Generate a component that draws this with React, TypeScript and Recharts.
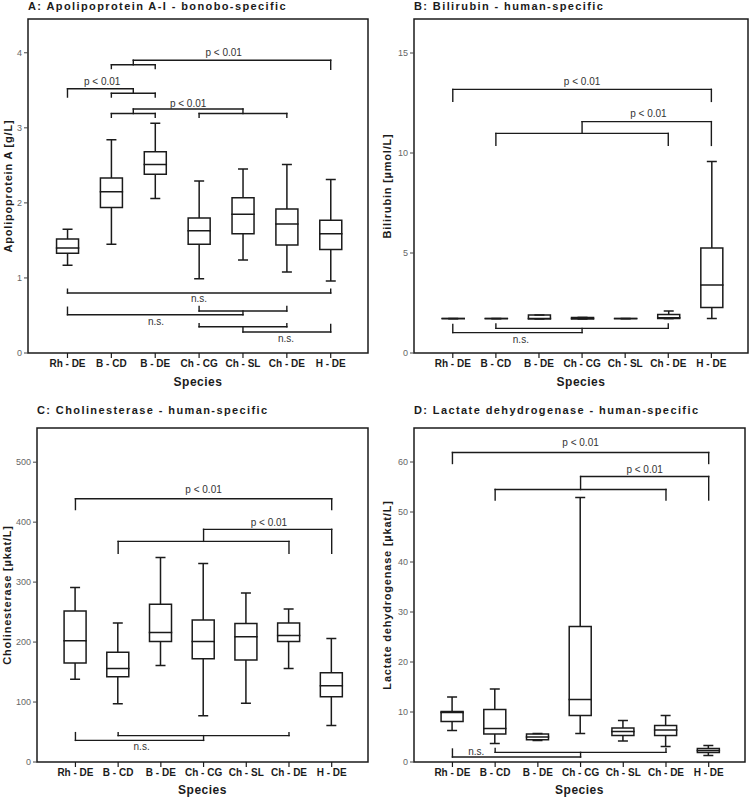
import React from "react";
import {
  ComposedChart,
  Bar,
  XAxis,
  YAxis,
  ReferenceLine,
  ReferenceArea,
  Scatter,
} from "recharts";

// species groups, placed at 1..7 on a numeric x axis
const species = ["Rh - DE", "B - CD", "B - DE", "Ch - CG", "Ch - SL", "Ch - DE", "H - DE"];
const positions = [1, 2, 3, 4, 5, 6, 7];

// A: apolipoprotein A-I [g/L]
const apoMin = [1.17, 1.45, 2.06, 0.99, 1.24, 1.08, 0.96];
const apoQ1 = [1.33, 1.94, 2.38, 1.45, 1.59, 1.44, 1.38];
const apoMed = [1.4, 2.15, 2.51, 1.63, 1.85, 1.72, 1.59];
const apoQ3 = [1.52, 2.33, 2.68, 1.8, 2.07, 1.92, 1.77];
const apoMax = [1.65, 2.84, 3.06, 2.29, 2.45, 2.51, 2.31];
const apoTicks = [0, 1, 2, 3, 4];

// B: bilirubin [umol/L]
const biliMin = [1.72, 1.72, 1.7, 1.7, 1.72, 1.72, 1.72];
const biliQ1 = [1.72, 1.72, 1.7, 1.7, 1.72, 1.72, 2.28];
const biliMed = [1.72, 1.72, 1.72, 1.73, 1.72, 1.76, 3.4];
const biliQ3 = [1.72, 1.72, 1.9, 1.78, 1.72, 1.93, 5.25];
const biliMax = [1.72, 1.72, 1.9, 1.78, 1.72, 2.1, 9.58];
const biliTicks = [0, 5, 10, 15];

// C: cholinesterase [ukat/L]
const choMin = [138, 97, 161, 77, 98, 156, 61];
const choQ1 = [165, 142, 201, 172, 170, 201, 109];
const choMed = [202, 156, 216, 201, 209, 211, 127];
const choQ3 = [252, 183, 263, 237, 231, 232, 149];
const choMax = [291, 232, 341, 331, 282, 255, 206];
const choTicks = [0, 100, 200, 300, 400, 500];

// D: lactate dehydrogenase [ukat/L]
const ldhMin = [6.3, 3.7, 4.3, 5.7, 4.2, 3.1, 1.3];
const ldhQ1 = [8.1, 5.6, 4.45, 9.3, 5.3, 5.3, 1.9];
const ldhMed = [9.9, 6.7, 5.0, 12.5, 6.1, 6.4, 2.3];
const ldhQ3 = [10.1, 10.5, 5.6, 27.1, 6.8, 7.3, 2.7];
const ldhMax = [13.0, 14.6, 5.7, 52.9, 8.3, 9.3, 3.3];
const ldhTicks = [0, 10, 20, 30, 40, 50, 60];

type Bracket = { a: number; b: number; y: number; ya?: number; yb?: number };
type Note = { x: number; y: number; text: string };

// significance brackets: horizontal from a to b at y, with ends dropping to ya / yb
const apoBrackets: Bracket[] = [
  { a: 2, b: 3, y: 3.84, ya: 3.79, yb: 3.79 },
  { a: 2.5, b: 7, y: 3.9, ya: 3.84, yb: 3.78 },
  { a: 1, b: 2.5, y: 3.52, ya: 3.41, yb: 3.46 },
  { a: 2, b: 3, y: 3.46, ya: 3.41, yb: 3.41 },
  { a: 2.5, b: 5, y: 3.25, ya: 3.19, yb: 3.19 },
  { a: 2, b: 3, y: 3.19, ya: 3.14, yb: 3.14 },
  { a: 4, b: 6, y: 3.19, ya: 3.14, yb: 3.14 },
  { a: 1, b: 7, y: 0.8, ya: 0.85, yb: 0.85 },
  { a: 1, b: 5, y: 0.51, ya: 0.61, yb: 0.56 },
  { a: 4, b: 6, y: 0.56, ya: 0.62, yb: 0.62 },
  { a: 4, b: 6, y: 0.35, ya: 0.39, yb: 0.39 },
  { a: 5, b: 7, y: 0.28, ya: 0.35, yb: 0.38 },
];
const apoNotes: Note[] = [
  { x: 4.56, y: 4.0, text: "p < 0.01" },
  { x: 1.79, y: 3.62, text: "p < 0.01" },
  { x: 3.75, y: 3.33, text: "p < 0.01" },
  { x: 4, y: 0.72, text: "n.s." },
  { x: 3.02, y: 0.42, text: "n.s." },
  { x: 5.98, y: 0.19, text: "n.s." },
];

const biliBrackets: Bracket[] = [
  { a: 1, b: 7, y: 13.18, ya: 12.58, yb: 12.58 },
  { a: 4, b: 7, y: 11.57, ya: 10.98, yb: 10.38 },
  { a: 2, b: 6, y: 10.98, ya: 10.38, yb: 10.38 },
  { a: 2, b: 6, y: 1.23, ya: 1.45, yb: 1.45 },
  { a: 1, b: 4, y: 1.02, ya: 1.43, yb: 1.23 },
];
const biliNotes: Note[] = [
  { x: 4, y: 13.6, text: "p < 0.01" },
  { x: 5.54, y: 11.98, text: "p < 0.01" },
  { x: 2.58, y: 0.7, text: "n.s." },
];

const choBrackets: Bracket[] = [
  { a: 1, b: 7, y: 439, ya: 421, yb: 421 },
  { a: 4, b: 7, y: 388, ya: 368, yb: 348 },
  { a: 2, b: 6, y: 368, ya: 348, yb: 348 },
  { a: 2, b: 6, y: 44, ya: 49, yb: 49 },
  { a: 1, b: 4, y: 36, ya: 49, yb: 44 },
];
const choNotes: Note[] = [
  { x: 4, y: 455, text: "p < 0.01" },
  { x: 5.53, y: 399, text: "p < 0.01" },
  { x: 2.55, y: 25.5, text: "n.s." },
];

const ldhBrackets: Bracket[] = [
  { a: 1, b: 7, y: 61.9, ya: 59.7, yb: 59.7 },
  { a: 4, b: 7, y: 57.1, ya: 54.5, yb: 52.4 },
  { a: 2, b: 6, y: 54.5, ya: 52.4, yb: 52.4 },
  { a: 2, b: 6, y: 1.93, ya: 2.73, yb: 2.73 },
  { a: 1, b: 4, y: 1.0, ya: 2.6, yb: 1.93 },
];
const ldhNotes: Note[] = [
  { x: 4, y: 63.9, text: "p < 0.01" },
  { x: 5.5, y: 58.6, text: "p < 0.01" },
  { x: 1.56, y: 2.2, text: "n.s." },
];

const FONT = '"Liberation Sans", Arial, Helvetica, sans-serif';
const INK = "#1b1b1b";
const X_DOMAIN: [number, number] = [0.1, 7.85];
const BOX_W = 22;
const CAP = 10;
const SW = 1.5;

const Empty = () => <g />;

const LowerWhisker = (p: any) => {
  const cx = p.x + p.width / 2;
  const y1 = p.y + p.height;
  return (
    <path
      d={`M${cx},${p.y}V${y1}M${cx - CAP / 2},${y1}H${cx + CAP / 2}`}
      stroke={INK}
      strokeWidth={SW}
      fill="none"
    />
  );
};

const LowerBox = (p: any) => {
  const { x, y, width: w, height: h } = p;
  return (
    <path
      d={`M${x},${y}V${y + h}H${x + w}V${y}M${x},${y}H${x + w}`}
      stroke={INK}
      strokeWidth={SW}
      fill="none"
      strokeLinecap="square"
    />
  );
};

const UpperBox = (p: any) => {
  const { x, y, width: w, height: h } = p;
  return (
    <path
      d={`M${x},${y + h}V${y}H${x + w}V${y + h}`}
      stroke={INK}
      strokeWidth={SW}
      fill="none"
      strokeLinecap="square"
    />
  );
};

const UpperWhisker = (p: any) => {
  const cx = p.x + p.width / 2;
  return (
    <path
      d={`M${cx},${p.y + p.height}V${p.y}M${cx - CAP / 2},${p.y}H${cx + CAP / 2}`}
      stroke={INK}
      strokeWidth={SW}
      fill="none"
    />
  );
};

const NoteText = (p: any) => (
  <text
    x={p.cx}
    y={p.cy}
    textAnchor="middle"
    dominantBaseline="central"
    fontSize={10}
    fill="#333"
  >
    {p.payload.text}
  </text>
);

const segmentsOf = (b: Bracket) => {
  const segs = [[{ x: b.a, y: b.y }, { x: b.b, y: b.y }]];
  if (b.ya !== undefined) segs.push([{ x: b.a, y: b.y }, { x: b.a, y: b.ya }]);
  if (b.yb !== undefined) segs.push([{ x: b.b, y: b.y }, { x: b.b, y: b.yb }]);
  return segs;
};

type PanelProps = {
  left: number;
  top: number;
  height: number;
  plotLeft: number;
  plotTop: number;
  plotRight: number;
  plotBottom: number;
  titleTop: number;
  xTitleY: number;
  yLabelX: number;
  title: string;
  yLabel: string;
  mins: number[];
  q1s: number[];
  meds: number[];
  q3s: number[];
  maxs: number[];
  yTop: number;
  yTicks: number[];
  brackets: Bracket[];
  notes: Note[];
};

function Panel(p: PanelProps) {
  const w = 375;
  const rows = positions.map((x, i) => ({
    x,
    base: p.mins[i],
    lw: p.q1s[i] - p.mins[i],
    lb: p.meds[i] - p.q1s[i],
    ub: p.q3s[i] - p.meds[i],
    uw: p.maxs[i] - p.q3s[i],
  }));
  const segs = p.brackets.flatMap(segmentsOf);
  return (
    <div style={{ position: "absolute", left: p.left, top: p.top, width: w, height: p.height }}>
      <div
        style={{
          position: "absolute",
          left: p.plotLeft,
          top: p.titleTop,
          fontSize: 11,
          fontWeight: 700,
          letterSpacing: 1.4,
          lineHeight: "13px",
          whiteSpace: "nowrap",
          color: INK,
        }}
      >
        {p.title}
      </div>
      <ComposedChart
        width={w}
        height={p.height}
        data={rows}
        margin={{ top: p.plotTop, right: w - p.plotRight, bottom: 0, left: 0 }}
      >
        <XAxis
          dataKey="x"
          type="number"
          domain={X_DOMAIN}
          ticks={positions}
          interval={0}
          allowDataOverflow
          height={p.height - p.plotBottom}
          axisLine={false}
          tickLine={{ stroke: INK, strokeWidth: 1.2 }}
          tickSize={5}
          tick={{ fontSize: 10, fontWeight: 700, fill: INK }}
          tickFormatter={(v: number) => species[v - 1]}
        />
        <XAxis
          xAxisId="notes"
          dataKey="x"
          type="number"
          domain={X_DOMAIN}
          allowDataOverflow
          hide
        />
        <YAxis
          type="number"
          domain={[0, p.yTop]}
          ticks={p.yTicks}
          interval={0}
          allowDataOverflow
          width={p.plotLeft}
          axisLine={false}
          tickLine={{ stroke: "#444" }}
          tickSize={4}
          tick={{ fontSize: 9, fill: "#666" }}
        />
        <ReferenceArea
          x1={X_DOMAIN[0]}
          x2={X_DOMAIN[1]}
          y1={0}
          y2={p.yTop}
          fill="none"
          fillOpacity={0}
          stroke={INK}
          strokeWidth={1.5}
          ifOverflow="visible"
        />
        <Bar dataKey="base" stackId="box" barSize={BOX_W} shape={Empty} isAnimationActive={false} />
        <Bar dataKey="lw" stackId="box" barSize={BOX_W} shape={LowerWhisker} isAnimationActive={false} />
        <Bar dataKey="lb" stackId="box" barSize={BOX_W} shape={LowerBox} isAnimationActive={false} />
        <Bar dataKey="ub" stackId="box" barSize={BOX_W} shape={UpperBox} isAnimationActive={false} />
        <Bar dataKey="uw" stackId="box" barSize={BOX_W} shape={UpperWhisker} isAnimationActive={false} />
        {segs.map((s, i) => (
          <ReferenceLine
            key={i}
            segment={s}
            stroke={INK}
            strokeWidth={1.4}
            strokeLinecap="square"
            ifOverflow="visible"
          />
        ))}
        <Scatter
          xAxisId="notes"
          data={p.notes}
          dataKey="y"
          shape={NoteText}
          isAnimationActive={false}
        />
      </ComposedChart>
      <div
        style={{
          position: "absolute",
          left: p.yLabelX,
          top: (p.plotTop + p.plotBottom) / 2,
          transform: "translate(-50%, -50%) rotate(-90deg)",
          fontSize: 11,
          fontWeight: 700,
          letterSpacing: 0.8,
          whiteSpace: "nowrap",
          color: INK,
        }}
      >
        {p.yLabel}
      </div>
      <div
        style={{
          position: "absolute",
          left: (p.plotLeft + p.plotRight) / 2,
          top: p.xTitleY,
          transform: "translate(-50%, -50%)",
          fontSize: 12,
          fontWeight: 700,
          letterSpacing: 0.5,
          whiteSpace: "nowrap",
          color: INK,
        }}
      >
        Species
      </div>
    </div>
  );
}

export default function App() {
  return (
    <div
      style={{
        position: "relative",
        width: 750,
        height: 797,
        background: "#fff",
        fontFamily: FONT,
        overflow: "hidden",
      }}
    >
      <style>{"body{margin:0}"}</style>
      <Panel
        left={0}
        top={0}
        height={397}
        plotLeft={28}
        plotTop={19}
        plotRight={368}
        plotBottom={353}
        titleTop={0}
        xTitleY={382}
        yLabelX={8}
        title="A: Apolipoprotein A-I - bonobo-specific"
        yLabel="Apolipoprotein A [g/L]"
        mins={apoMin}
        q1s={apoQ1}
        meds={apoMed}
        q3s={apoQ3}
        maxs={apoMax}
        yTop={4.45}
        yTicks={apoTicks}
        brackets={apoBrackets}
        notes={apoNotes}
      />
      <Panel
        left={375}
        top={0}
        height={397}
        plotLeft={39}
        plotTop={19}
        plotRight={373}
        plotBottom={353}
        titleTop={0}
        xTitleY={382}
        yLabelX={12}
        title="B: Bilirubin - human-specific"
        yLabel="Bilirubin [µmol/L]"
        mins={biliMin}
        q1s={biliQ1}
        meds={biliMed}
        q3s={biliQ3}
        maxs={biliMax}
        yTop={16.7}
        yTicks={biliTicks}
        brackets={biliBrackets}
        notes={biliNotes}
      />
      <Panel
        left={0}
        top={397}
        height={400}
        plotLeft={37}
        plotTop={31}
        plotRight={368}
        plotBottom={365}
        titleTop={7}
        xTitleY={393}
        yLabelX={7}
        title="C: Cholinesterase - human-specific"
        yLabel="Cholinesterase [µkat/L]"
        mins={choMin}
        q1s={choQ1}
        meds={choMed}
        q3s={choQ3}
        maxs={choMax}
        yTop={557}
        yTicks={choTicks}
        brackets={choBrackets}
        notes={choNotes}
      />
      <Panel
        left={375}
        top={397}
        height={400}
        plotLeft={39}
        plotTop={31}
        plotRight={370}
        plotBottom={365}
        titleTop={7}
        xTitleY={393}
        yLabelX={12}
        title="D: Lactate dehydrogenase - human-specific"
        yLabel="Lactate dehydrogenase [µkat/L]"
        mins={ldhMin}
        q1s={ldhQ1}
        meds={ldhMed}
        q3s={ldhQ3}
        maxs={ldhMax}
        yTop={66.8}
        yTicks={ldhTicks}
        brackets={ldhBrackets}
        notes={ldhNotes}
      />
    </div>
  );
}
